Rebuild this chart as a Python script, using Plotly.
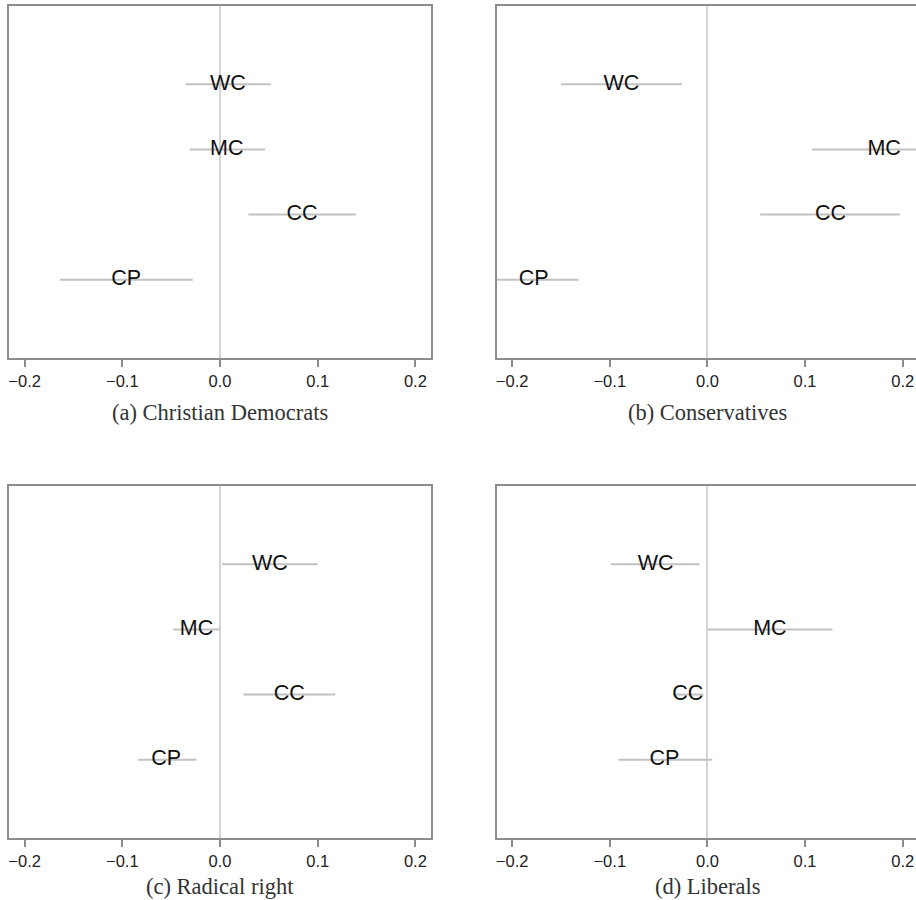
import plotly.graph_objects as go

categories = ["WC", "MC", "CC", "CP"]
positions = [4, 3, 2, 1]
tick_vals = [-0.2, -0.1, 0.0, 0.1, 0.2]
tick_text = ["\u22120.2", "\u22120.1", "0.0", "0.1", "0.2"]

panel_titles = ["(a) Christian Democrats", "(b) Conservatives",
                "(c) Radical right", "(d) Liberals"]

cd_est = [0.008, 0.007, 0.084, -0.096]
cd_lo = [-0.035, -0.031, 0.029, -0.164]
cd_hi = [0.052, 0.046, 0.139, -0.028]

con_est = [-0.088, 0.181, 0.126, -0.178]
con_lo = [-0.150, 0.107, 0.054, -0.224]
con_hi = [-0.026, 0.255, 0.197, -0.132]

rr_est = [0.051, -0.024, 0.071, -0.055]
rr_lo = [0.002, -0.048, 0.024, -0.084]
rr_hi = [0.100, 0.000, 0.118, -0.024]

lib_est = [-0.053, 0.064, -0.020, -0.044]
lib_lo = [-0.099, 0.000, -0.035, -0.091]
lib_hi = [-0.008, 0.128, -0.004, 0.005]

panels = [(cd_est, cd_lo, cd_hi), (con_est, con_lo, con_hi),
          (rr_est, rr_lo, rr_hi), (lib_est, lib_lo, lib_hi)]

W, H = 916, 900
# pixel geometry of the four frames (left, right, top, bottom)
frames = [(9, 431, 6, 358), (496.5, 916, 6, 358),
          (9, 431, 486, 838), (496.5, 916, 486, 838)]
px_per_unit = 976.5
xranges = [(-0.216, 0.216), (-0.216, -0.216 + (916 - 496.5) / px_per_unit),
           (-0.216, 0.216), (-0.216, -0.216 + (916 - 496.5) / px_per_unit)]
cap_pos = [(220, 412), (707, 412), (220, 886), (707.5, 886)]

FRAME = "#8c8c8c"
CI_COL = "#c2c2c2"
ZERO_COL = "#d4d4d4"

fig = go.Figure()
layout = dict(width=W, height=H, margin=dict(l=0, r=0, t=0, b=0),
              paper_bgcolor="white", plot_bgcolor="white", showlegend=False)

for i, (est, lo, hi) in enumerate(panels):
    n = i + 1
    xa = "x" if n == 1 else f"x{n}"
    ya = "y" if n == 1 else f"y{n}"
    xs, ys = [], []
    for l, h, p in zip(lo, hi, positions):
        xs += [l, h, None]
        ys += [p, p, None]
    fig.add_trace(go.Scatter(x=xs, y=ys, mode="lines",
                             line=dict(color=CI_COL, width=2),
                             xaxis=xa, yaxis=ya, hoverinfo="skip"))
    fig.add_trace(go.Scatter(x=est, y=positions, mode="text", text=categories,
                             textposition="middle center",
                             textfont=dict(family="Liberation Sans, Arial", size=21.5,
                                           color="#111111"),
                             xaxis=xa, yaxis=ya, cliponaxis=False))
    left, right, top, bottom = frames[i]
    right_panel = (n % 2 == 0)
    layout["xaxis" if n == 1 else f"xaxis{n}"] = dict(
        domain=[left / W, right / W], range=list(xranges[i]),
        tickmode="array", tickvals=tick_vals, ticktext=tick_text,
        ticks="outside", ticklen=7, tickwidth=1.5, tickcolor=FRAME,
        tickfont=dict(family="Liberation Sans, Arial", size=16.5, color="#222222"),
        showline=True, linecolor=FRAME, linewidth=1.5, mirror=True,
        showgrid=False, zeroline=True, zerolinecolor=ZERO_COL, zerolinewidth=1.5,
        anchor=ya, fixedrange=True)
    layout["yaxis" if n == 1 else f"yaxis{n}"] = dict(
        domain=[1 - bottom / H, 1 - top / H], range=[-0.2, 5.2],
        showticklabels=False, ticks="", showgrid=False, zeroline=False,
        showline=True, linecolor=FRAME, linewidth=1.5,
        mirror=(False if right_panel else True),
        anchor=xa, fixedrange=True)

annotations = []
for t, (cx, cy) in zip(panel_titles, cap_pos):
    annotations.append(dict(text=t, x=cx / W, y=1 - cy / H, xref="paper", yref="paper",
                            showarrow=False, xanchor="center", yanchor="middle",
                            font=dict(family="Liberation Serif, Times New Roman, serif",
                                      size=22.5, color="#333333")))
layout["annotations"] = annotations
fig.update_layout(**layout)
fig.write_html("out.html", config={"displayModeBar": False},
               post_script="document.body.style.margin='0';document.body.style.overflow='hidden';")
